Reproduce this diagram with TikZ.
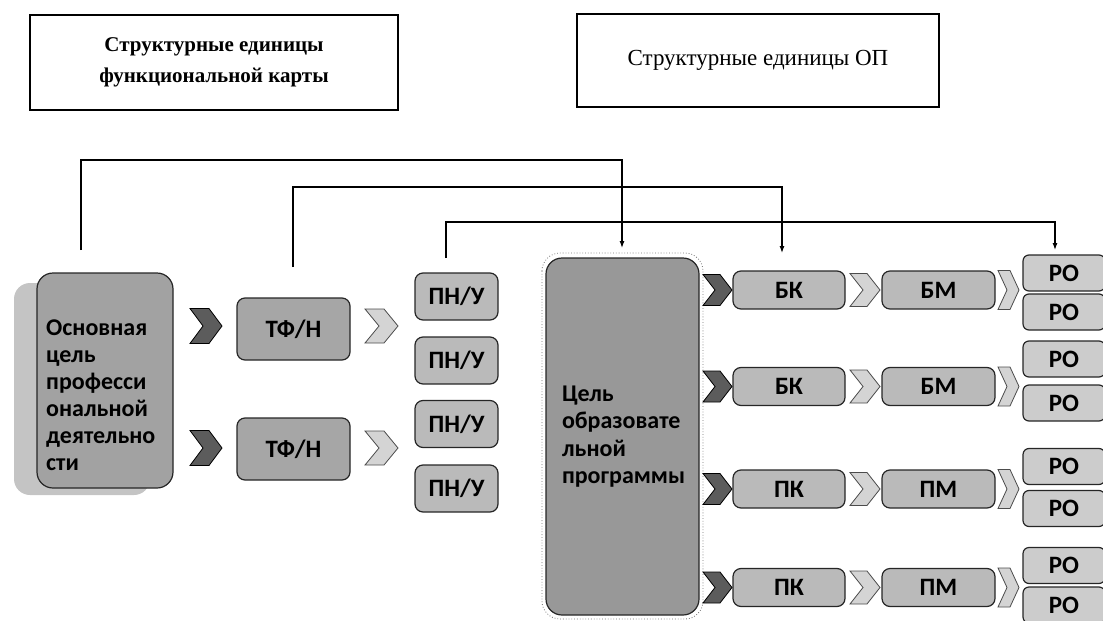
\documentclass[tikz,border=0pt]{standalone}
\usepackage{fontspec}
\newfontfamily\calfont{Carlito}
\newfontfamily\serfont{Liberation Serif}
\usetikzlibrary{arrows.meta}
\definecolor{bigL}{HTML}{A2A2A2}
\definecolor{bigR}{HTML}{989898}
\definecolor{shad}{HTML}{C4C4C4}
\definecolor{tfn}{HTML}{A6A6A6}
\definecolor{midg}{HTML}{BABABA}
\definecolor{rog}{HTML}{CCCCCC}
\definecolor{chevD}{HTML}{5C5C5C}
\definecolor{chevL}{HTML}{D4D4D4}
% chevron: style, cx, cy, half width, half height, notch
\newcommand{\mychev}[6]{\path[#1] (#2-#4,#3-#5) -- (#2+#4-#6,#3-#5) -- (#2+#4,#3) -- (#2+#4-#6,#3+#5) -- (#2-#4,#3+#5) -- (#2-#4+#6,#3) -- cycle;}
\tikzset{
  hdrbox/.style={draw=black, line width=1.5pt, align=center, inner sep=0pt},
  bigbox/.style={draw=black!85, line width=1.2pt, rounded corners=16pt, inner sep=0pt,
    font=\calfont\bfseries\fontsize{24}{27.5}\selectfont},
  unitbox/.style={draw=black!85, line width=1.2pt, rounded corners=8pt, inner sep=0pt,
    font=\calfont\bfseries\fontsize{25}{25}\selectfont},
  tfbox/.style={unitbox, fill=tfn, minimum width=113, minimum height=62},
  pnbox/.style={unitbox, fill=midg, minimum width=83, minimum height=47},
  kbox/.style={unitbox, fill=midg, minimum width=112, minimum height=38},
  mbox/.style={unitbox, fill=midg, minimum width=113, minimum height=38},
  robox/.style={unitbox, fill=rog, minimum width=82, minimum height=36, rounded corners=6pt},
  darkchev/.style={fill=chevD, draw=black, line width=0.8pt},
  lightchev/.style={fill=chevL, draw=black!70, line width=0.8pt},
  conn/.style={line width=1.2pt, -{Latex[length=7pt,width=5pt]}},
}
\begin{document}
\begin{tikzpicture}[x=1pt,y=-1pt]
\useasboundingbox (0,0) rectangle (1103,621);
% headers
\node[hdrbox, minimum width=368, minimum height=95,
  font=\serfont\bfseries\fontsize{21}{31}\selectfont] (t1) at (214,62.5)
  {Структурные единицы\\функциональной карты};
\node[hdrbox, minimum width=362, minimum height=93,
  font=\serfont\fontsize{23}{27}\selectfont] (t2) at (758,60.5)
  {Структурные единицы ОП};

% left big box with shadow
\path[fill=shad, rounded corners=16pt] (14,283) rectangle (150,495);
\node[bigbox, fill=bigL, minimum width=136, minimum height=215] (lb) at (105,380.5) {};
\node[anchor=west, align=left, inner sep=0pt,
  font=\calfont\bfseries\fontsize{24}{27}\selectfont] (lbtext) at (46,395)
  {Основная\\цель\\професси\\ональной\\деятельно\\сти};

% TF/N and PN/U
\mychev{darkchev}{206}{326}{16}{17.5}{13}
\mychev{darkchev}{206}{448}{16}{17.5}{13}
\node[tfbox] (tf1) at (293.5,329) {ТФ/Н};
\node[tfbox] (tf2) at (293.5,449) {ТФ/Н};
\mychev{lightchev}{381.5}{326}{16.5}{17}{14}
\mychev{lightchev}{381.5}{448}{16.5}{17}{14}
\node[pnbox] (pn1) at (456.5,296.5) {ПН/У};
\node[pnbox] (pn2) at (456.5,360.5) {ПН/У};
\node[pnbox] (pn3) at (456.5,424) {ПН/У};
\node[pnbox] (pn4) at (456.5,488.5) {ПН/У};

% right big box
\draw[black!55, dotted, line width=0.8pt, rounded corners=18pt] (542,253) rectangle (703,619);
\node[bigbox, fill=bigR, minimum width=153, minimum height=357, text width=121, align=left]
  (rb) at (622.5,436.5) {Цель\\образовате\\льной\\программы};

% rows
\foreach \cy/\k/\m/\i in {290/БК/БМ/1, 386.5/БК/БМ/2, 489/ПК/ПМ/3, 587.5/ПК/ПМ/4}{
  \mychev{darkchev}{717.5}{\cy}{14.5}{15.5}{12}
  \node[kbox] (k\i) at (789,\cy) {\k};
  \mychev{lightchev}{865}{\cy}{15}{16.5}{13}
  \node[mbox] (m\i) at (938.5,\cy) {\m};
  \mychev{lightchev}{1008.5}{\cy}{10.5}{19.5}{9}
}
\node[robox] (ro1) at (1064,273) {РО};
\node[robox] (ro2) at (1064,312) {РО};
\node[robox] (ro3) at (1064,359) {РО};
\node[robox] (ro4) at (1064,403) {РО};
\node[robox] (ro5) at (1064,466.5) {РО};
\node[robox] (ro6) at (1064,508.5) {РО};
\node[robox] (ro7) at (1064,565.5) {РО};
\node[robox] (ro8) at (1064,605) {РО};

% connectors
\coordinate (s1) at (81,250);
\coordinate (e1) at (622,248);
\coordinate (s2) at (293,267);
\coordinate (e2) at (782,253);
\coordinate (s3) at (446,258);
\coordinate (e3) at (1055,250);
\draw[conn] (s1) -- ++(0,-90) -| (e1);
\draw[conn] (s2) -- ++(0,-80) -| (e2);
\draw[conn] (s3) -- ++(0,-36) -| (e3);
\end{tikzpicture}
\end{document}
